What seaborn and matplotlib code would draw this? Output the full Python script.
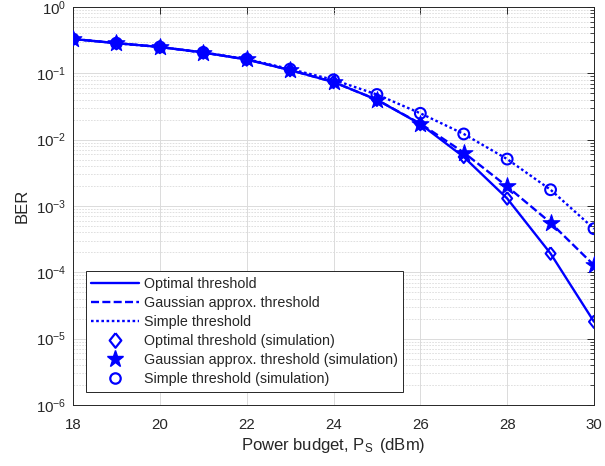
import matplotlib
matplotlib.use("Agg")
import matplotlib.pyplot as plt
from matplotlib.lines import Line2D
from matplotlib.ticker import LogLocator, NullFormatter, LogFormatterMathtext, MultipleLocator
import pandas as pd
import seaborn as sns

# Power budget P_S (dBm)
power_dbm = [18, 19, 20, 21, 22, 23, 24, 25, 26, 27, 28, 29, 30]

# Bit error rate for each decision threshold
ber_optimal = [0.33, 0.285, 0.25, 0.206, 0.162, 0.112, 0.074, 0.040, 0.0172,
               0.0055, 0.00130, 0.000192, 1.8e-5]
ber_gaussian = [0.33, 0.285, 0.25, 0.206, 0.162, 0.112, 0.074, 0.040, 0.0175,
                0.0064, 0.00197, 0.00056, 0.000128]
ber_simple = [0.33, 0.285, 0.25, 0.207, 0.164, 0.116, 0.080, 0.048, 0.0250,
              0.0122, 0.0051, 0.00176, 0.000455]

line_labels = ["Optimal threshold", "Gaussian approx. threshold", "Simple threshold"]
sim_labels = ["Optimal threshold (simulation)",
              "Gaussian approx. threshold (simulation)",
              "Simple threshold (simulation)"]

sns.set_theme(style="white")
plt.rcParams["font.family"] = ["Liberation Sans", "DejaVu Sans"]
plt.rcParams["mathtext.fontset"] = "custom"
plt.rcParams["mathtext.rm"] = "Liberation Sans"
plt.rcParams["mathtext.it"] = "Liberation Sans:italic"

BLUE = (0.0, 0.0, 1.0)
AX_COLOR = (0.15, 0.15, 0.15)
LW = 1.7

# Diamond slightly narrower than it is tall
DIAMOND = [(0, 1), (0.8, 0), (0, -1), (-0.8, 0), (0, 1)]

curves = pd.DataFrame({
    "power": power_dbm * 3,
    "ber": ber_optimal + ber_gaussian + ber_simple,
    "scheme": [line_labels[0]] * 13 + [line_labels[1]] * 13 + [line_labels[2]] * 13,
})

fig = plt.figure(figsize=(6.05, 4.66), dpi=100)
ax = fig.add_axes([0.1207, 0.1309, 0.8611, 0.8540])

dash_styles = {
    line_labels[0]: "",
    line_labels[1]: (3.4, 1.4),
    line_labels[2]: (1.1, 1.1),
}
sns.lineplot(data=curves, x="power", y="ber", hue="scheme", style="scheme",
             palette={k: BLUE for k in line_labels}, dashes=dash_styles,
             linewidth=LW, legend=False, ax=ax, zorder=3)

# Simulation markers
sns.scatterplot(x=power_dbm, y=ber_optimal, marker=DIAMOND, s=80, color=BLUE,
                facecolor="none", edgecolor=BLUE, linewidth=1.5, ax=ax, zorder=4)
sns.scatterplot(x=power_dbm, y=ber_gaussian, marker="*", s=160, color=BLUE,
                edgecolor=BLUE, linewidth=0.8, ax=ax, zorder=4)
sns.scatterplot(x=power_dbm, y=ber_simple, marker="o", s=60, color=BLUE,
                facecolor="none", edgecolor=BLUE, linewidth=1.5, ax=ax, zorder=4)

ax.set_yscale("log")
ax.set_xlim(18, 30)
ax.set_ylim(1e-6, 1)
ax.xaxis.set_major_locator(MultipleLocator(2))
ax.yaxis.set_major_locator(LogLocator(base=10, numticks=10))
ax.yaxis.set_minor_locator(LogLocator(base=10, subs=range(2, 10), numticks=20))
ax.yaxis.set_major_formatter(LogFormatterMathtext())
ax.yaxis.set_minor_formatter(NullFormatter())

ax.grid(True, which="major", color=(0.86, 0.86, 0.86), linewidth=0.7, linestyle="-")
ax.grid(True, which="minor", axis="y", color=(0.86, 0.86, 0.86), linewidth=0.6,
        linestyle=(0, (2, 1.5)))
ax.set_axisbelow(True)

for side in ["left", "right", "top", "bottom"]:
    ax.spines[side].set_visible(True)
    ax.spines[side].set_color(AX_COLOR)
    ax.spines[side].set_linewidth(0.7)

ax.tick_params(which="both", direction="in", top=True, right=True,
               colors=AX_COLOR, labelcolor=(0.15, 0.15, 0.15), labelsize=10.8)
ax.tick_params(which="major", length=5, width=0.7)
ax.tick_params(which="minor", length=3, width=0.6)
ax.tick_params(axis="x", which="major", pad=9)
ax.tick_params(axis="y", which="major", pad=5)

ax.set_xlabel(r"Power budget, $\mathrm{P}_{\mathrm{S}}\,$ (dBm)", fontsize=12, labelpad=3)
ax.set_ylabel("BER", fontsize=12, labelpad=4)

handles = [
    Line2D([], [], color=BLUE, lw=LW, linestyle="-"),
    Line2D([], [], color=BLUE, lw=LW, linestyle=(0, (3.4, 1.4))),
    Line2D([], [], color=BLUE, lw=LW, linestyle=(0, (1.1, 1.1))),
    Line2D([], [], color=BLUE, marker=DIAMOND, markersize=10.5, markerfacecolor="none",
           markeredgewidth=1.6, linestyle="none"),
    Line2D([], [], color=BLUE, marker="*", markersize=12.5, linestyle="none"),
    Line2D([], [], color=BLUE, marker="o", markersize=7.5, markerfacecolor="none",
           markeredgewidth=1.6, linestyle="none"),
]
leg = ax.legend(handles, line_labels + sim_labels, loc="lower left",
                bbox_to_anchor=(0.025, 0.033), borderaxespad=0, fontsize=10.25,
                handlelength=3.35, handletextpad=0.33, labelspacing=0.36,
                borderpad=0.38, fancybox=False, framealpha=1)
leg.get_frame().set_edgecolor(AX_COLOR)
leg.get_frame().set_linewidth(0.7)

fig.savefig("out.png", dpi=100)
